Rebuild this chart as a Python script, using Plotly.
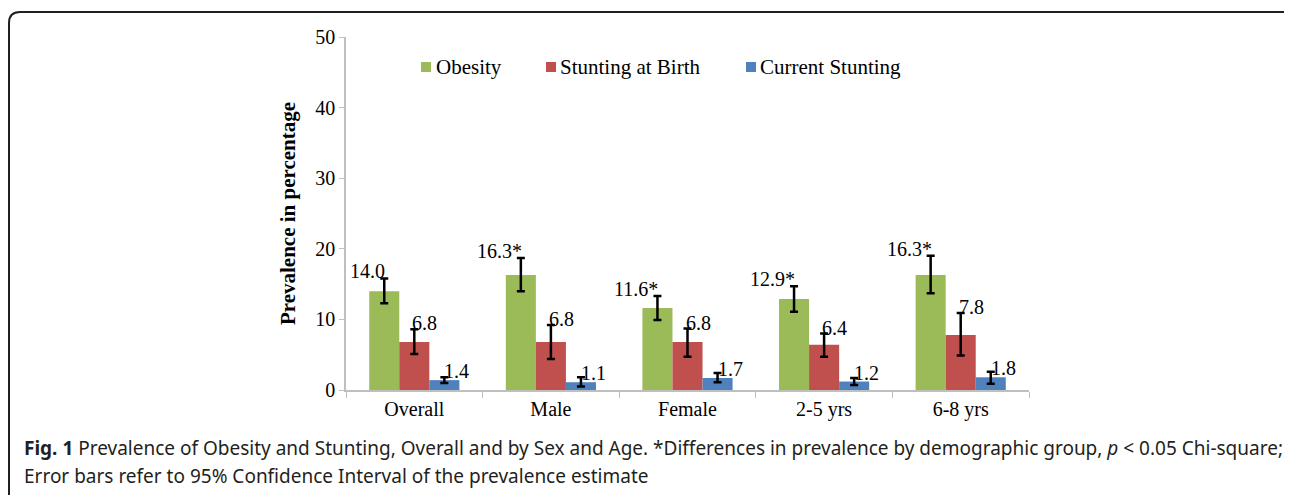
import plotly.graph_objects as go

categories = ["Overall", "Male", "Female", "2-5 yrs", "6-8 yrs"]
series_names = ["Obesity", "Stunting at Birth", "Current Stunting"]
obesity = [14.0, 16.3, 11.6, 12.9, 16.3]
obesity_lo = [12.3, 14.0, 9.9, 11.1, 13.7]
obesity_hi = [15.8, 18.7, 13.3, 14.7, 19.0]
birth = [6.8, 6.8, 6.8, 6.4, 7.8]
birth_lo = [5.1, 4.4, 4.7, 4.7, 4.9]
birth_hi = [8.6, 9.2, 8.7, 8.0, 10.9]
current = [1.4, 1.1, 1.7, 1.2, 1.8]
current_lo = [1.0, 0.5, 1.1, 0.7, 0.9]
current_hi = [1.8, 1.8, 2.4, 1.7, 2.6]
obesity_labels = ["14.0", "16.3*", "11.6*", "12.9*", "16.3*"]
birth_labels = ["6.8", "6.8", "6.8", "6.4", "7.8"]
current_labels = ["1.4", "1.1", "1.7", "1.2", "1.8"]
y_ticks = [0, 10, 20, 30, 40, 50]
colors = ["#9BBB59", "#C0504D", "#4F81BD"]
caption1 = ("<b>Fig. 1</b> Prevalence of Obesity and Stunting, Overall and by Sex and Age. "
            "*Differences in prevalence by demographic group, <i>p</i> &lt; 0.05 Chi-square;")
caption2 = "Error bars refer to 95% Confidence Interval of the prevalence estimate"

# page body has an 8px margin; positions below are in window pixels
OFF = 8
W, H = 1292 - OFF, 495 - OFF
PX_LEFT, PX_RIGHT, PX_TOP, PX_BOTTOM = 346, 1029, 37, 390
L = PX_LEFT - OFF
T = PX_TOP - OFF
PW = PX_RIGHT - PX_LEFT
PH = PX_BOTTOM - PX_TOP
R = W - L - PW
B = H - T - PH
BARGAP = 0.34
cat_px = PW / len(categories)
bar_px = cat_px * (1 - BARGAP) / 3

serif = "Liberation Serif, Times New Roman, serif"


def px2x(px):
    return (px - PX_LEFT) / PW


def px2y(py):
    return (PX_BOTTOM - py) / PH


fig = go.Figure()
data = [(obesity, obesity_lo, obesity_hi), (birth, birth_lo, birth_hi), (current, current_lo, current_hi)]
for name, (v, lo, hi), c in zip(series_names, data, colors):
    fig.add_trace(go.Bar(
        x=categories, y=v, name=name, marker=dict(color=c, line=dict(width=0)),
        showlegend=False,
        error_y=dict(type="data", symmetric=False,
                     array=[h - a for h, a in zip(hi, v)],
                     arrayminus=[a - l for a, l in zip(v, lo)],
                     color="black", thickness=2.5, width=4),
    ))

lab_font = dict(family=serif, size=20, color="black")
ann = []
for i, cat in enumerate(categories):
    ann.append(dict(x=cat, y=obesity_hi[i], text=obesity_labels[i], xref="x", yref="y",
                    xanchor="right", yanchor="bottom", xshift=-bar_px + 3, yshift=-6,
                    showarrow=False, font=lab_font))
    ann.append(dict(x=cat, y=birth_hi[i], text=birth_labels[i], xref="x", yref="y",
                    xanchor="left", yanchor="bottom", xshift=-4, yshift=-7,
                    showarrow=False, font=lab_font))
    ann.append(dict(x=cat, y=current[i], text=current_labels[i], xref="x", yref="y",
                    xanchor="left", yanchor="bottom", xshift=bar_px - 2, yshift=-4,
                    showarrow=False, font=lab_font))

# legend drawn manually (swatch + label)
legend_sw_x = [421, 546, 746]
legend_tx_x = [434, 558, 758]
legend_y = 67
shapes = []
for name, c, sx, tx in zip(series_names, colors, legend_sw_x, legend_tx_x):
    shapes.append(dict(type="rect", xref="paper", yref="paper",
                       x0=px2x(sx), x1=px2x(sx + 10), y0=px2y(legend_y + 5), y1=px2y(legend_y - 5),
                       fillcolor=c, line=dict(width=0)))
    ann.append(dict(x=px2x(tx), y=px2y(legend_y), xref="paper", yref="paper", text=name,
                    xanchor="left", yanchor="middle", showarrow=False,
                    font=dict(family=serif, size=21, color="black")))

cap_font = dict(family="Noto Sans, Open Sans, sans-serif", size=19, color="#231f20")
ann.append(dict(x=px2x(22), y=px2y(448), xref="paper", yref="paper", text=caption1,
                xanchor="left", yanchor="middle", showarrow=False, font=cap_font))
ann.append(dict(x=px2x(22), y=px2y(476), xref="paper", yref="paper", text=caption2,
                xanchor="left", yanchor="middle", showarrow=False, font=cap_font))

# rounded frame
x0, y0, x1, y1, r = 9, 12, 1310, 520, 11
rx, ry = r / PW, r / PH
X0, X1 = px2x(x0), px2x(x1)
Y0, Y1 = px2y(y0), px2y(y1)
path = (f"M {X0},{Y1} L {X0},{Y0 - ry} Q {X0},{Y0} {X0 + rx},{Y0} "
        f"L {X1 - rx},{Y0} Q {X1},{Y0} {X1},{Y0 - ry} L {X1},{Y1} Z")
shapes.append(dict(type="path", path=path, xref="paper", yref="paper",
                   line=dict(color="#231f20", width=2), fillcolor="rgba(0,0,0,0)", layer="below"))

fig.update_layout(
    width=W, height=H, margin=dict(l=L, r=R, t=T, b=B, autoexpand=False),
    paper_bgcolor="white", plot_bgcolor="white",
    barmode="group", bargap=BARGAP, bargroupgap=0,
    font=dict(family=serif, size=20, color="black"),
    xaxis=dict(type="category", range=[-0.5, len(categories) - 0.5], showline=True,
               linecolor="#bfbfbf", linewidth=1.5, ticks="outside", tickson="boundaries",
               ticklen=6, tickcolor="#bfbfbf", tickfont=dict(family=serif, size=20),
               showgrid=False, zeroline=False),
    yaxis=dict(range=[0, 50], tickvals=y_ticks, showline=True, linecolor="#bfbfbf",
               linewidth=1.5, ticks="outside", ticklen=5, tickcolor="#bfbfbf",
               tickfont=dict(family=serif, size=20), showgrid=False, zeroline=False,
               title=dict(text="<b>Prevalence in percentage</b>",
                          font=dict(family=serif, size=21), standoff=14)),
    annotations=ann, shapes=shapes, showlegend=False,
)

fig.write_html("out.html")
